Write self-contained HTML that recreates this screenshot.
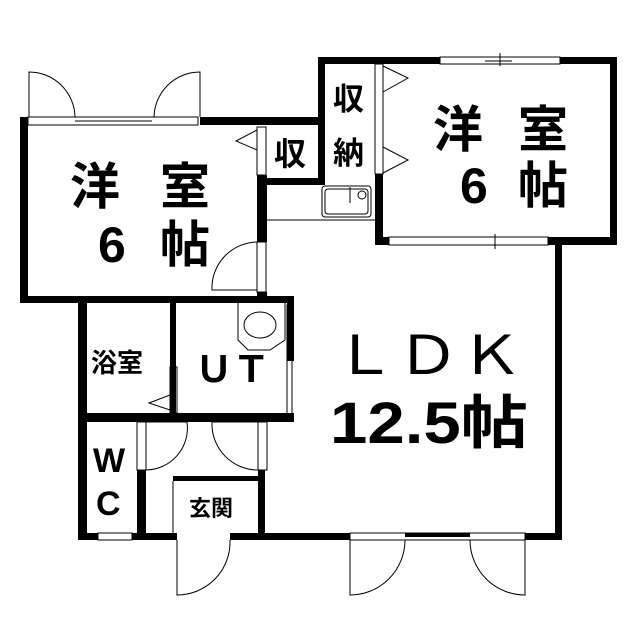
<!DOCTYPE html>
<html><head><meta charset="utf-8"><style>
html,body{margin:0;padding:0;background:#fff;}
svg{display:block}
text{font-family:"Liberation Sans","Noto Sans CJK JP",sans-serif;fill:#000}
.b{font-weight:bold}
</style></head><body>
<svg width="640" height="640" viewBox="0 0 640 640" xmlns="http://www.w3.org/2000/svg">
<g fill="#000">
<rect x="20" y="117" width="8" height="186"/>
<rect x="20" y="296" width="274" height="7"/>
<rect x="200" y="117" width="120" height="8"/>
<rect x="257" y="175" width="10" height="67"/>
<rect x="260" y="178" width="60" height="7"/>
<rect x="257" y="292" width="10" height="8"/>
<rect x="318" y="57" width="122" height="7"/>
<rect x="560" y="57" width="57" height="7"/>
<rect x="318" y="57" width="7" height="128"/>
<rect x="610" y="57" width="7" height="188"/>
<rect x="375" y="174" width="8" height="71"/>
<rect x="375" y="237" width="14" height="8"/>
<rect x="548" y="237" width="69" height="8"/>
<rect x="555" y="237" width="7" height="303"/>
<rect x="260" y="185" width="7" height="10"/>
<rect x="78" y="296" width="9" height="244"/>
<rect x="170" y="296" width="6" height="117"/>
<rect x="78" y="413" width="216" height="9"/>
<rect x="287" y="296" width="7" height="65"/>
<rect x="137" y="470" width="9" height="70"/>
<rect x="173" y="476" width="92" height="5"/>
<rect x="258" y="470" width="7" height="70"/>
<rect x="78" y="533" width="20" height="7"/>
<rect x="132" y="533" width="45" height="7"/>
<rect x="230" y="533" width="120" height="7"/>
<rect x="405" y="533" width="65" height="4"/>
<rect x="525" y="533" width="37" height="7"/>
</g>
<g fill="none" stroke="#000" stroke-width="1">
<rect x="28" y="117" width="170" height="8"/>
<line x1="75" y1="121" x2="152" y2="121"/>
<path d="M29 117 V72 A46 46 0 0 1 75 117"/>
<path d="M200 117 V72 A46 46 0 0 0 154 117"/>
<rect x="257" y="127" width="9" height="48"/>
<path d="M257 130 L236 141 L257 150"/>
<rect x="257" y="242" width="9" height="50"/>
<path d="M257 242 A46 46 0 0 0 212 290 L257 290"/>
<rect x="440" y="57" width="120" height="7"/>
<line x1="500" y1="53" x2="500" y2="66"/>
<line x1="485" y1="61" x2="512" y2="61"/>
<rect x="375" y="64" width="8" height="110"/>
<path d="M383 66 L408 78 L383 92"/>
<path d="M383 147 L408 160 L383 173"/>
<rect x="389" y="237" width="159" height="8"/>
<line x1="495" y1="234" x2="495" y2="249"/>
<rect x="322" y="186" width="49" height="31" rx="3"/>
<rect x="325" y="189" width="43" height="25" rx="3"/>
<circle cx="362" cy="195" r="4"/>
<line x1="350" y1="187" x2="350" y2="203"/>
<line x1="267" y1="220" x2="375" y2="220"/>
<path d="M238 301 H285 V340 L270 350 H248 L238 340 Z"/>
<ellipse cx="260" cy="325" rx="16" ry="13"/>
<rect x="287" y="305" width="5" height="113"/>
<rect x="170" y="367" width="7" height="46"/>
<path d="M170 395 L149 403 L170 410"/>
<rect x="137" y="422" width="9" height="48"/>
<path d="M146 422 H187 A42 42 0 0 1 146 470"/>
<rect x="258" y="422" width="9" height="48"/>
<path d="M258 422 H212 A46 46 0 0 0 258 470"/>
<line x1="173" y1="481" x2="173" y2="533"/>
<rect x="98" y="533" width="34" height="7"/>
<path d="M177 540 V595 A53 53 0 0 0 230 540"/>
<rect x="350" y="533" width="175" height="7"/>
<path d="M350 540 V595 A55 55 0 0 0 405 540"/>
<path d="M525 540 V595 A55 55 0 0 1 470 540"/>
</g>
<g font-size="50" class="b">
<text x="70" y="204">洋</text><text x="160" y="204">室</text>
<text x="98" y="262">6</text><text x="160" y="262">帖</text>
<text x="433" y="147">洋</text><text x="518" y="147">室</text>
<text x="460" y="203">6</text><text x="518" y="203">帖</text>
</g>
<text x="333" y="374" font-size="54" textLength="190" lengthAdjust="spacingAndGlyphs">ＬＤＫ</text>
<text x="330" y="443" font-size="58" class="b" textLength="198" lengthAdjust="spacingAndGlyphs">12.5帖</text>
<g class="b">
<text x="274" y="165" font-size="32">収</text>
<text x="333" y="110" font-size="31">収</text>
<text x="333" y="164" font-size="31">納</text>
<text x="91" y="372" font-size="26">浴室</text>
<text x="195" y="382" font-size="36" textLength="75" lengthAdjust="spacingAndGlyphs">ＵＴ</text>
<text x="93" y="472" font-size="34">W</text>
<text x="96" y="515" font-size="34">C</text>
<text x="189" y="516" font-size="22">玄関</text>
</g>
</svg>
</body></html>
